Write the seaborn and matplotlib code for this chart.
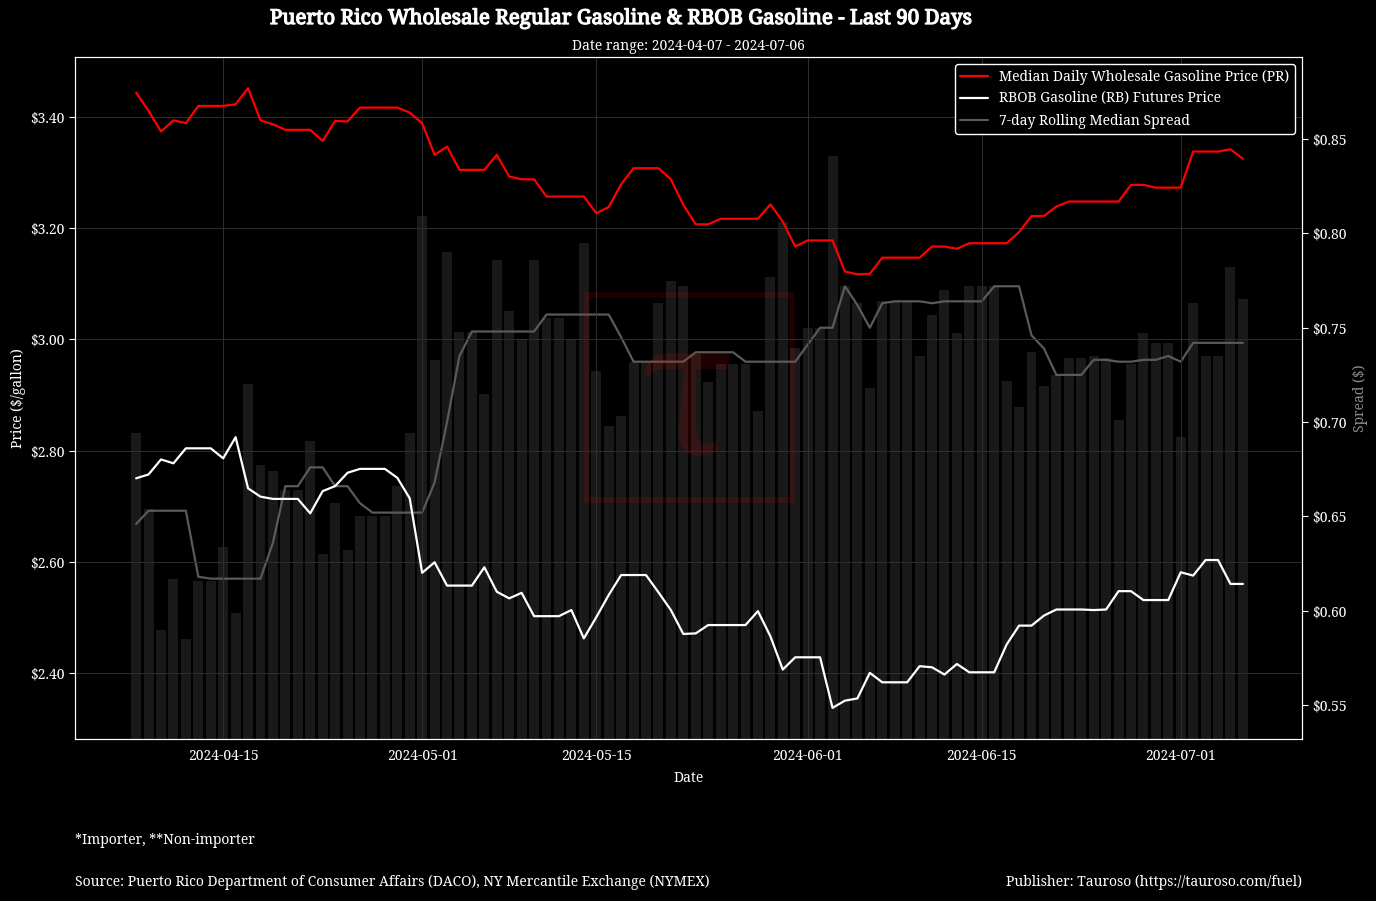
import matplotlib
matplotlib.use("Agg")
import matplotlib.pyplot as plt
import matplotlib.ticker as mticker
import matplotlib.dates as mdates
import matplotlib.patches as mpatches
import matplotlib.patheffects as pe
import seaborn as sns
import pandas as pd
import numpy as np

# ---------------- data ----------------
start_date = "2024-04-08"
n_days = 90

pr_price = [3.444, 3.411, 3.374, 3.394, 3.389, 3.420, 3.420, 3.420, 3.423, 3.452,
            3.394, 3.387, 3.377, 3.377, 3.377, 3.357, 3.393, 3.392, 3.417, 3.417,
            3.417, 3.417, 3.408, 3.389, 3.332, 3.347, 3.305, 3.305, 3.305, 3.332,
            3.293, 3.288, 3.288, 3.257, 3.257, 3.257, 3.257, 3.227, 3.238, 3.279,
            3.308, 3.308, 3.308, 3.288, 3.242, 3.207, 3.207, 3.217, 3.217, 3.217,
            3.217, 3.243, 3.212, 3.167, 3.178, 3.178, 3.178, 3.122, 3.117, 3.118,
            3.147, 3.147, 3.147, 3.147, 3.167, 3.167, 3.163, 3.173, 3.173, 3.173,
            3.173, 3.193, 3.222, 3.222, 3.239, 3.248, 3.248, 3.248, 3.248, 3.248,
            3.278, 3.278, 3.273, 3.273, 3.273, 3.338, 3.338, 3.338, 3.342, 3.325]

rbob_price = [2.750, 2.757, 2.784, 2.777, 2.804, 2.804, 2.804, 2.786, 2.824, 2.732,
              2.717, 2.713, 2.713, 2.713, 2.687, 2.727, 2.736, 2.760, 2.767, 2.767,
              2.767, 2.751, 2.714, 2.580, 2.599, 2.557, 2.557, 2.557, 2.590, 2.546,
              2.534, 2.544, 2.502, 2.502, 2.502, 2.513, 2.462, 2.500, 2.540, 2.576,
              2.576, 2.576, 2.545, 2.513, 2.470, 2.471, 2.486, 2.486, 2.486, 2.486,
              2.511, 2.466, 2.406, 2.428, 2.428, 2.428, 2.337, 2.350, 2.354, 2.400,
              2.383, 2.383, 2.383, 2.412, 2.410, 2.397, 2.416, 2.401, 2.401, 2.401,
              2.451, 2.485, 2.485, 2.503, 2.514, 2.514, 2.514, 2.513, 2.514, 2.547,
              2.547, 2.531, 2.531, 2.531, 2.581, 2.575, 2.603, 2.603, 2.560, 2.560]

rolling_spread = [0.646, 0.653, 0.653, 0.653, 0.653, 0.618, 0.617, 0.617, 0.617, 0.617,
                  0.617, 0.636, 0.666, 0.666, 0.676, 0.676, 0.666, 0.666, 0.657, 0.652,
                  0.652, 0.652, 0.652, 0.652, 0.668, 0.700, 0.735, 0.748, 0.748, 0.748,
                  0.748, 0.748, 0.748, 0.757, 0.757, 0.757, 0.757, 0.757, 0.757, 0.745,
                  0.732, 0.732, 0.732, 0.732, 0.732, 0.737, 0.737, 0.737, 0.737, 0.732,
                  0.732, 0.732, 0.732, 0.732, 0.741, 0.750, 0.750, 0.772, 0.762, 0.750,
                  0.763, 0.764, 0.764, 0.764, 0.763, 0.764, 0.764, 0.764, 0.764, 0.772,
                  0.772, 0.772, 0.746, 0.739, 0.725, 0.725, 0.725, 0.733, 0.733, 0.732,
                  0.732, 0.733, 0.733, 0.735, 0.732, 0.742, 0.742, 0.742, 0.742, 0.742]

left_ticks = [2.40, 2.60, 2.80, 3.00, 3.20, 3.40]
right_ticks = [0.55, 0.60, 0.65, 0.70, 0.75, 0.80, 0.85]
x_ticks = ["2024-04-15", "2024-05-01", "2024-05-15", "2024-06-01", "2024-06-15", "2024-07-01"]

title = "Puerto Rico Wholesale Regular Gasoline & RBOB Gasoline - Last 90 Days"
subtitle = "Date range: 2024-04-07 - 2024-07-06"
label_pr = "Median Daily Wholesale Gasoline Price (PR)"
label_rb = "RBOB Gasoline (RB) Futures Price"
label_roll = "7-day Rolling Median Spread"
note = "*Importer, **Non-importer"
source = "Source: Puerto Rico Department of Consumer Affairs (DACO), NY Mercantile Exchange (NYMEX)"
publisher = "Publisher: Tauroso (https://tauroso.com/fuel)"

dates = pd.date_range(start_date, periods=n_days, freq="D")
df = pd.DataFrame({"date": dates, "pr": pr_price, "rbob": rbob_price, "roll": rolling_spread})
df["spread"] = df["pr"] - df["rbob"]

# ---------------- style ----------------
sns.set_theme(style="dark")
plt.rcParams["font.family"] = ["Noto Serif", "DejaVu Serif"]
plt.rcParams.update({
    "figure.facecolor": "black",
    "axes.facecolor": "black",
    "axes.edgecolor": "white",
    "text.color": "white",
    "axes.labelcolor": "white",
    "xtick.color": "white",
    "ytick.color": "white",
    "font.size": 10,
})

fig = plt.figure(figsize=(13.76, 9.01), dpi=100)
ax1 = fig.add_axes([0.0545, 0.1798, 0.8917, 0.7569])
ax2 = ax1.twinx()
ax1.set_zorder(ax2.get_zorder() + 1)
ax1.patch.set_visible(False)
ax2.set_facecolor("black")

# bars: daily spread on right axis
ax2.bar(df["date"], df["spread"], width=0.8, color="white", alpha=0.1,
        linewidth=0, edgecolor="none", zorder=1)
sns.lineplot(data=df, x="date", y="roll", ax=ax2, color="#5a5a5a", linewidth=1.6,
             label=label_roll, legend=False, zorder=3)

sns.lineplot(data=df, x="date", y="pr", ax=ax1, color="red", linewidth=1.6,
             label=label_pr, legend=False)
sns.lineplot(data=df, x="date", y="rbob", ax=ax1, color="white", linewidth=1.6,
             label=label_rb, legend=False)

ax1.set_ylim(2.281, 3.508)
ax2.set_ylim(0.532, 0.8935)
ax1.set_xlim(pd.Timestamp("2024-04-03 02:00"), pd.Timestamp("2024-07-10 18:00"))

ax1.set_yticks(left_ticks)
ax1.yaxis.set_major_formatter(mticker.FuncFormatter(lambda v, p: f"${v:.2f}"))
ax2.set_yticks(right_ticks)
ax2.yaxis.set_major_formatter(mticker.FuncFormatter(lambda v, p: f"${v:.2f}"))
ax1.set_xticks(pd.to_datetime(x_ticks))
ax1.xaxis.set_major_formatter(mdates.DateFormatter("%Y-%m-%d"))

for a in (ax1, ax2):
    a.tick_params(axis="both", colors="white", labelsize=10, length=4, width=0.8)
    for s in a.spines.values():
        s.set_color("white")
        s.set_linewidth(0.8)

ax1.grid(True, color="#2e2e2e", linewidth=0.7)
ax2.grid(False)

ax1.set_xlabel("Date", fontsize=10, color="white", labelpad=5)
ax1.set_ylabel("Price ($/gallon)", fontsize=10, color="white", labelpad=3)
ax2.set_ylabel("Spread ($)", fontsize=10, color="#8a8a8a", labelpad=4)
ax1.set_title(subtitle, fontsize=10, color="white", pad=5)
fig.suptitle(title, x=0.4515, y=0.99, fontsize=14.8, color="white",
             path_effects=[pe.withStroke(linewidth=0.9, foreground="white")])

# legend
h1, l1 = ax1.get_legend_handles_labels()
h2, l2 = ax2.get_legend_handles_labels()
leg = ax1.legend(h1 + h2, l1 + l2, loc="upper right", fontsize=10, facecolor="black",
                 edgecolor="white", framealpha=1.0)
for t in leg.get_texts():
    t.set_color("white")

# watermark
fig.patches.append(mpatches.Rectangle((587 / 1376, 1 - 500 / 901), 205 / 1376, 205 / 901,
                                      transform=fig.transFigure, fill=False,
                                      edgecolor="red", alpha=0.13, linewidth=4, zorder=0.5))
fig.text(688 / 1376, 1 - 405 / 901, "τ", fontsize=135, color="red", alpha=0.13,
         ha="center", va="center", zorder=0.5)

# footer
fig.text(75 / 1376, 1 - 841 / 901, note, fontsize=10, color="white", ha="left", va="center")
fig.text(75 / 1376, 1 - 882 / 901, source, fontsize=10, color="white", ha="left", va="center")
fig.text(1302 / 1376, 1 - 882 / 901, publisher, fontsize=10, color="white", ha="right", va="center")

fig.savefig("out.png", dpi=100, facecolor="black")
